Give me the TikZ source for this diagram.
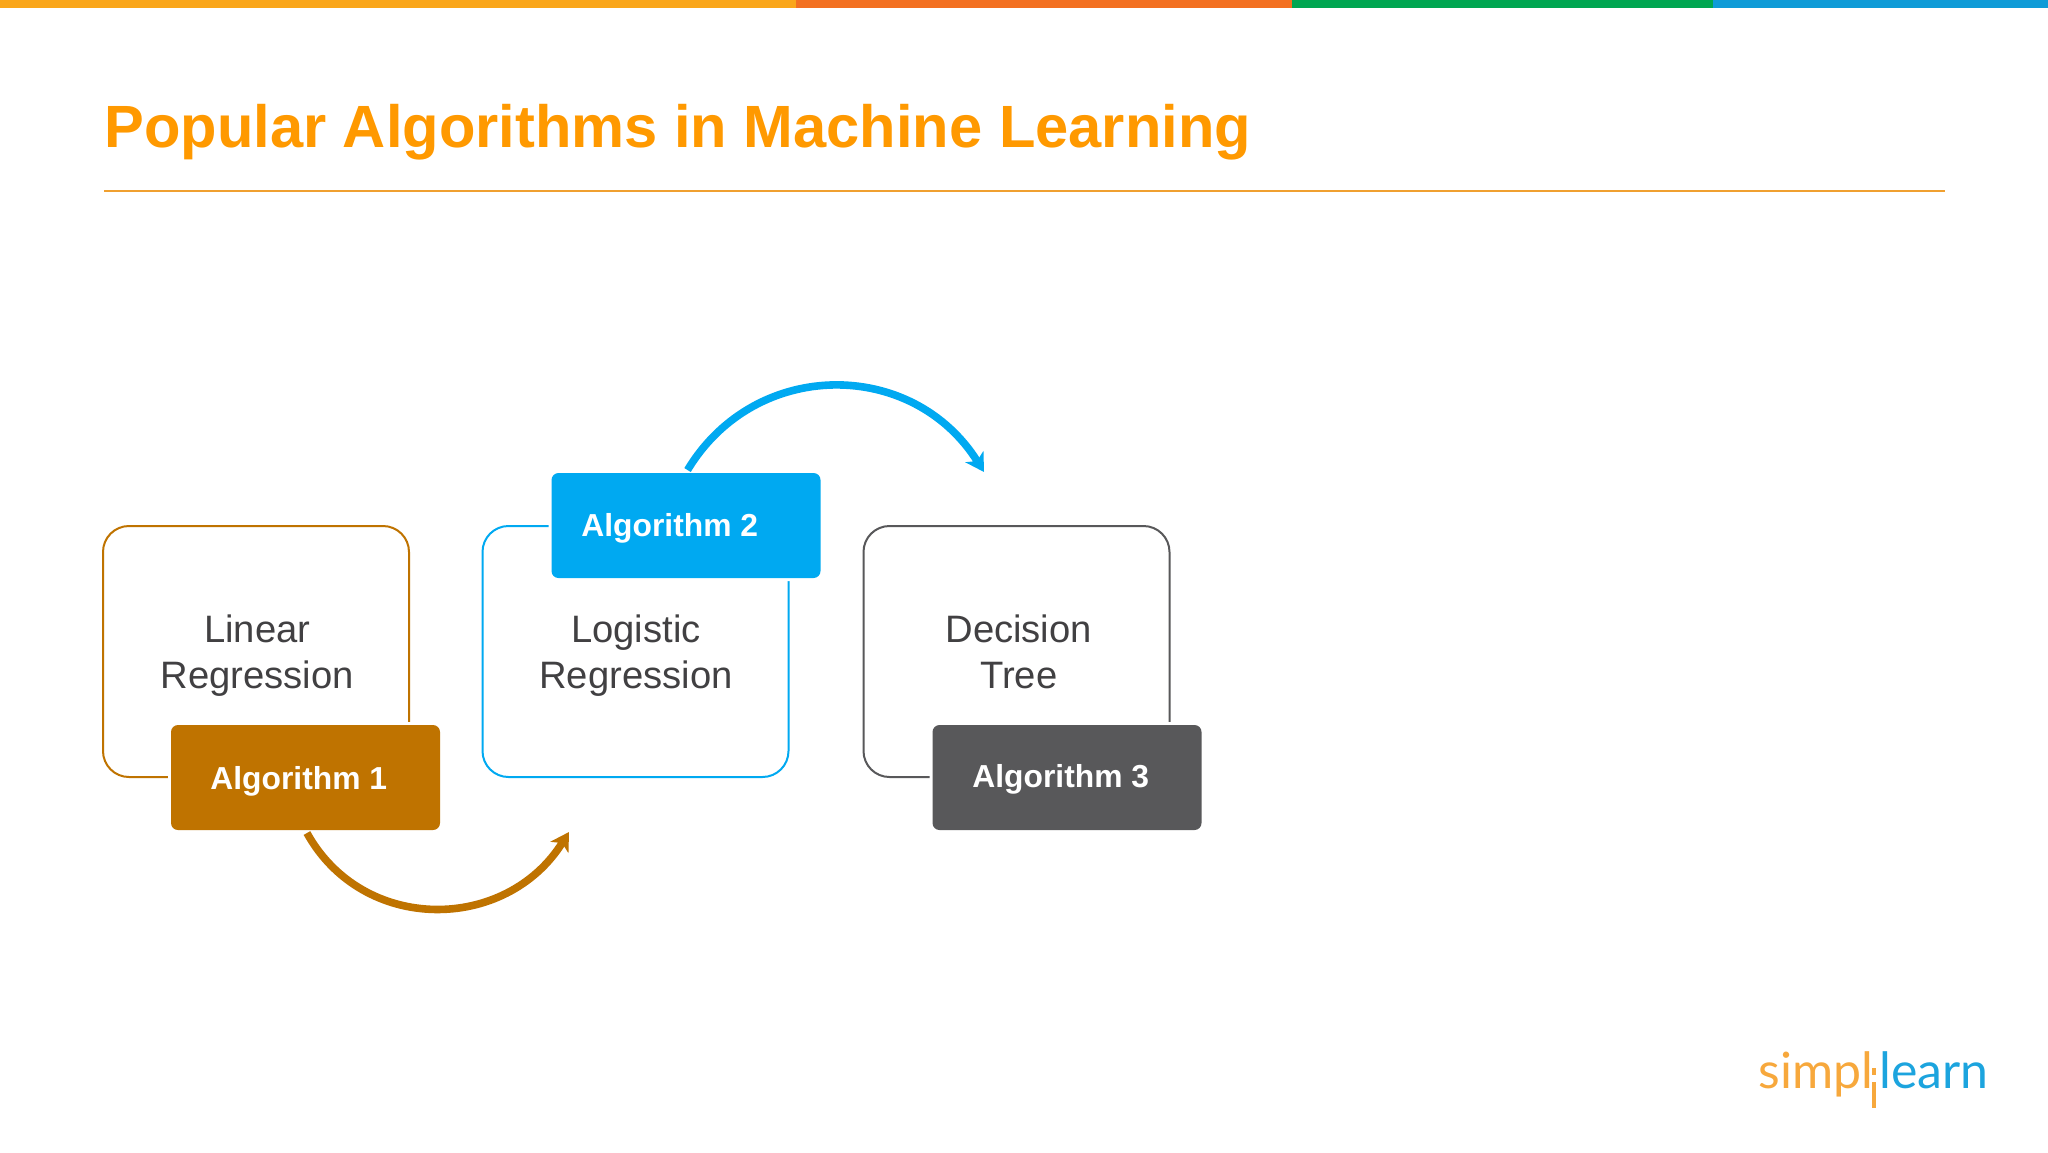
\documentclass[tikz,border=0pt]{standalone}
\usepackage{fontspec}
\usepackage{tikz}
\usetikzlibrary{arrows.meta}
\setmainfont{Liberation Sans}
\newfontfamily\logofont{Lato}
\definecolor{titleorange}{HTML}{FF9900}
\definecolor{ruleorange}{HTML}{F0A030}
\definecolor{algbrown}{HTML}{BF7300}
\definecolor{algblue}{HTML}{00A9F1}
\definecolor{alggrey}{HTML}{58585A}
\definecolor{cardtext}{HTML}{414042}
\definecolor{barorange}{HTML}{FAA61A}
\definecolor{barred}{HTML}{F37021}
\definecolor{bargreen}{HTML}{00A651}
\definecolor{barblue}{HTML}{0F9BD7}
\definecolor{logoorange}{HTML}{F7A83C}
\definecolor{logoblue}{HTML}{1CA4DE}
\tikzset{
    card/.style={draw=#1, line width=1pt, rounded corners=13pt, minimum width=153pt, minimum height=125.5pt},
    cardlabel/.style={text=cardtext, font=\fontsize{19.1}{23}\selectfont, align=center, inner sep=0pt},
    algbox/.style={fill=#1, preaction={draw=white, line width=3pt}, rounded corners=3.5pt,
        minimum width=134.5pt, minimum height=52.5pt, inner sep=0pt},
    algtext/.style={anchor=west, text=white, inner sep=0pt, font=\fontsize{15.9}{19}\selectfont\bfseries},
    bend arrow/.style={draw=#1, line width=3.8pt, shorten <=1.5pt, -{Stealth[length=9pt,width=10.5pt,inset=2.5pt]}},
    logotext/.style={anchor=base west, inner sep=0pt, text=#1, font=\logofont\fontsize{25}{30}\selectfont}
}
\begin{document}
\begin{tikzpicture}[x=0.5pt,y=0.5pt]
    \useasboundingbox (0,0) rectangle (2048,-1152);
    \fill[white] (0,0) rectangle (2048,-1152);
    % top bar
    \fill[barorange] (0,0) rectangle (796,-8);
    \fill[barred] (796,0) rectangle (1292,-8);
    \fill[bargreen] (1292,0) rectangle (1713,-8);
    \fill[barblue] (1713,0) rectangle (2048,-8);
    % title
    \node[anchor=base west, inner sep=0pt, text=titleorange, font=\fontsize{29.82}{34}\selectfont\bfseries] (title) at (104,-147) {Popular Algorithms in Machine Learning};
    \draw[ruleorange, line width=1pt] (104,-190.5) -- (1945,-190.5);
    % cards
    \node[card=algbrown] (cardone) at (256,-651.5) {};
    \node[card=algblue] (cardtwo) at (635.5,-651.5) {};
    \node[card=alggrey] (cardthree) at (1016.5,-651.5) {};
    \node[cardlabel] (cardonetext) at (257.3,-656.7) {Linear\strut\\Regression\strut};
    \node[cardlabel] (cardtwotext) at (636,-656.7) {Logistic\strut\\Regression\strut};
    \node[cardlabel] (cardthreetext) at (1018.7,-656.7) {Decision\strut\\Tree\strut};
    % algorithm boxes
    \node[algbox=algbrown] (algone) at (305.5,-777.5) {};
    \node[algbox=algblue] (algtwo) at (686,-525.5) {};
    \node[algbox=alggrey] (algthree) at (1067,-777.5) {};
    \node[algtext] (algonetext) at (210,-781.5) {Algorithm 1};
    \node[algtext] (algtwotext) at (581,-528.5) {Algorithm 2};
    \node[algtext] (algthreetext) at (972,-779.5) {Algorithm 3};
    % arrows
    \coordinate (tipone) at (569,-832);
    \coordinate (tiptwo) at (984,-472);
    \draw[bend arrow=algbrown] (algone.south) to[out=-61,in=-122,looseness=1.15] (tipone);
    \draw[bend arrow=algblue] (algtwo.north) to[out=59,in=122,looseness=1.15] (tiptwo);
    % logo
    \node[logotext=logoorange] (logosimpl) at (1758,-1088) {simpl};
    \node[logotext=logoblue] (logolearn) at (1879,-1088) {learn};
    \fill[logoorange] (1871.5,-1068) rectangle (1876,-1075);
    \fill[logoorange] (1871.5,-1082) rectangle (1876,-1108);
\end{tikzpicture}
\end{document}
